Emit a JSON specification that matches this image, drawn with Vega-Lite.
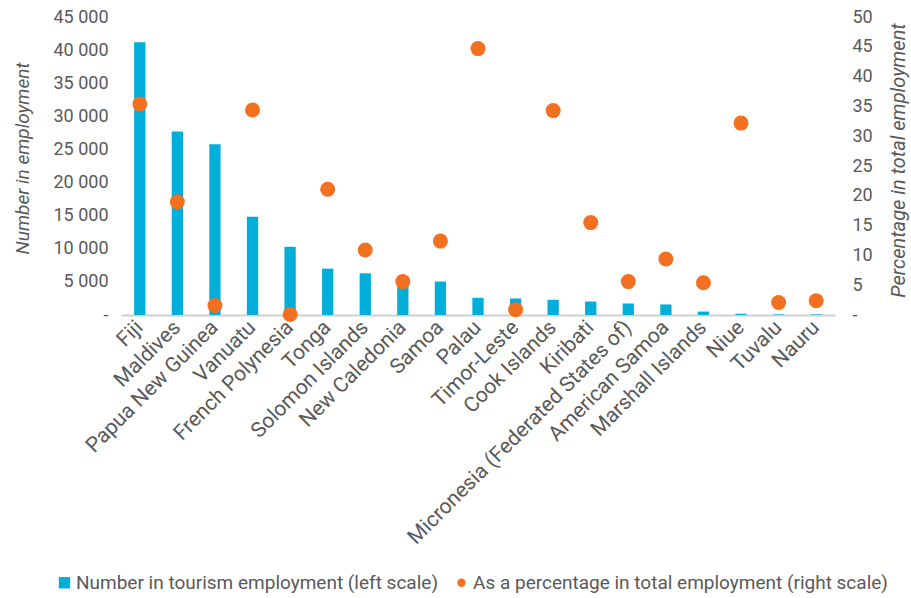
{
  "$schema": "https://vega.github.io/schema/vega-lite/v6.json",
  "width": 714,
  "height": 298,
  "autosize": {"type": "none"},
  "padding": {"left": 121, "top": 17, "right": 76, "bottom": 283},
  "background": "white",
  "config": {
    "view": {"stroke": null},
    "font": "Roboto",
    "axis": {"grid": false, "ticks": false, "labelColor": "#595959", "titleColor": "#595959", "labelFontSize": 18, "titleFontSize": 19, "labelFont": "Roboto", "titleFont": "Roboto", "titleFontWeight": "normal", "titleFontStyle": "italic"},
    "legend": {"labelColor": "#595959", "labelFontSize": 19, "labelFont": "Roboto", "labelLimit": 600}
  },
  "data": {
    "values": [
      {"country": "Fiji", "number": 41200, "pct": 35.4},
      {"country": "Maldives", "number": 27700, "pct": 19.0},
      {"country": "Papua New Guinea", "number": 25800, "pct": 1.6},
      {"country": "Vanuatu", "number": 14850, "pct": 34.4},
      {"country": "French Polynesia", "number": 10300, "pct": 0.1},
      {"country": "Tonga", "number": 7000, "pct": 21.1},
      {"country": "Solomon Islands", "number": 6300, "pct": 10.9},
      {"country": "New Caledonia", "number": 5400, "pct": 5.6},
      {"country": "Samoa", "number": 5050, "pct": 12.4},
      {"country": "Palau", "number": 2600, "pct": 44.7},
      {"country": "Timor-Leste", "number": 2490, "pct": 0.9},
      {"country": "Cook Islands", "number": 2300, "pct": 34.3},
      {"country": "Kiribati", "number": 2040, "pct": 15.5},
      {"country": "Micronesia (Federated States of)", "number": 1740, "pct": 5.6},
      {"country": "American Samoa", "number": 1590, "pct": 9.4},
      {"country": "Marshall Islands", "number": 520, "pct": 5.4},
      {"country": "Niue", "number": 190, "pct": 32.2},
      {"country": "Tuvalu", "number": 90, "pct": 2.1},
      {"country": "Nauru", "number": 90, "pct": 2.4}
    ]
  },
  "encoding": {
    "x": {
      "field": "country",
      "type": "nominal",
      "sort": null,
      "scale": {"paddingInner": 0.7, "paddingOuter": 0.35},
      "axis": {"title": null, "labelAngle": -45, "labelAlign": "right", "labelBaseline": "middle", "labelPadding": 9, "labelFontSize": 21, "domainColor": "#d0d0d0", "domainWidth": 2, "labelLimit": 400}
    }
  },
  "layer": [
    {
      "mark": {"type": "bar"},
      "encoding": {
        "y": {
          "field": "number",
          "type": "quantitative",
          "scale": {"domain": [0, 45000]},
          "axis": {"title": "Number in employment", "domain": false, "values": [0,5000,10000,15000,20000,25000,30000,35000,40000,45000], "labelExpr": "datum.value == 0 ? '-' : replace(format(datum.value, ','), ',', ' ')", "labelPadding": 13, "titlePadding": 20, "titleY": 141}
        },
        "color": {
          "datum": "Number in tourism employment (left scale)",
          "type": "nominal",
          "scale": {"domain": ["Number in tourism employment (left scale)", "As a percentage in total employment (right scale)"], "range": ["#00AED9", "#F37021"]},
          "legend": {
            "title": null,
            "orient": "none",
            "legendX": -66,
            "legendY": 556,
            "direction": "horizontal",
            "columnPadding": 14,
            "labelOffset": 2,
            "encode": {
              "symbols": {
                "update": {
                  "shape": {"signal": "datum.value == 'Number in tourism employment (left scale)' ? 'square' : 'circle'"},
                  "size": {"signal": "datum.value == 'Number in tourism employment (left scale)' ? 130 : 70"},
                  "strokeWidth": {"value": 0}
                }
              }
            }
          }
        }
      }
    },
    {
      "mark": {"type": "point", "filled": true, "opacity": 1, "size": 225},
      "encoding": {
        "y": {
          "field": "pct",
          "type": "quantitative",
          "scale": {"domain": [0, 50]},
          "axis": {"title": "Percentage in total employment", "orient": "right", "domain": false, "values": [0,5,10,15,20,25,30,35,40,45,50], "labelExpr": "datum.value == 0 ? '-' : format(datum.value, 'd')", "labelPadding": 17, "titleAngle": -90, "titlePadding": 36, "titleFontSize": 20, "titleY": 143}
        },
        "color": {"datum": "As a percentage in total employment (right scale)", "type": "nominal"}
      }
    }
  ],
  "resolve": {"scale": {"y": "independent"}}
}
